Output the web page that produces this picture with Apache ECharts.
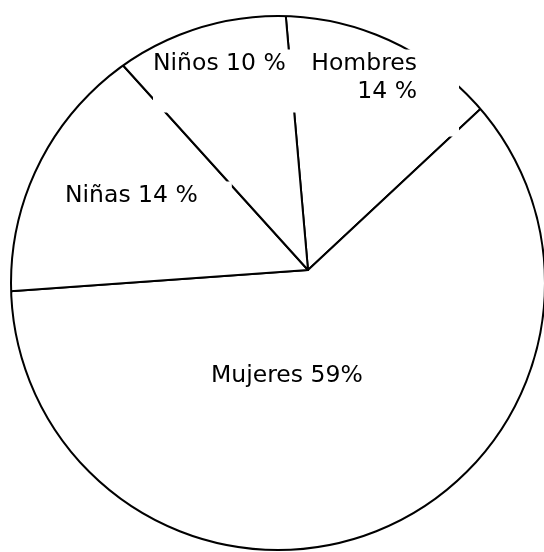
<!DOCTYPE html>
<html>
<head>
<meta charset="utf-8">
<script src="https://cdn.jsdelivr.net/npm/echarts@6/dist/echarts.min.js"></script>
<style>
  html, body { margin: 0; padding: 0; background: #fff; }
  #chart { width: 544px; height: 552px; }
</style>
</head>
<body>
<div id="chart"></div>
<script>
// Data (clockwise from the top)
const categories = ['Hombres', 'Mujeres', 'Niñas', 'Niños'];
const values = [14, 59, 14, 10];
const labelTexts = ['Hombres\n14 %', 'Mujeres 59%', 'Niñas 14 %', 'Niños 10 %'];

const chart = echarts.init(document.getElementById('chart'), null, { renderer: 'canvas' });

const apexCenter = [308, 270];
const circleCenter = [278, 283];
const circleR = 267;
const startAngle = 95;

const sliceData = categories.map((c, i) => ({ name: c, value: values[i] }));

// label layout (box anchor, alignment, padding)
const labelLayoutInfo = [
  { x: 459, y: 49.5, align: 'right', padding: [0, 42, 31, 0] },
  { x: 211, y: 362, align: 'left', padding: [0, 42, 32, 0] },
  { x: 65, y: 181.5, align: 'left', padding: [0, 34, 32, 0] },
  { x: 153, y: 49.5, align: 'left', padding: [0, 20, 35, 0] }
];

const option = {
  backgroundColor: '#fff',
  animation: false,
  series: [
    {
      // slice boundaries
      type: 'pie',
      z: 1,
      silent: true,
      center: apexCenter,
      radius: [0, 340],
      startAngle: startAngle,
      clockwise: true,
      avoidLabelOverlap: false,
      label: { show: false },
      labelLine: { show: false },
      itemStyle: { color: '#fff', borderColor: '#000', borderWidth: 2 },
      data: sliceData
    },
    {
      // outer circle (white mask outside the circle)
      type: 'pie',
      z: 2,
      silent: true,
      center: circleCenter,
      radius: [circleR, 900],
      label: { show: false },
      labelLine: { show: false },
      itemStyle: { color: '#fff', borderColor: '#000', borderWidth: 2 },
      data: [{ name: 'circle', value: 1 }]
    },
    {
      // labels
      type: 'pie',
      z: 3,
      silent: true,
      center: apexCenter,
      radius: [0, 340],
      startAngle: startAngle,
      clockwise: true,
      avoidLabelOverlap: false,
      itemStyle: { color: 'rgba(0,0,0,0)', borderWidth: 0 },
      labelLine: { show: false },
      label: {
        show: true,
        position: 'inside',
        fontFamily: 'DejaVu Sans',
        fontSize: 23.5,
        lineHeight: 28,
        color: '#000',
        backgroundColor: '#fff',
        formatter: (p) => labelTexts[p.dataIndex]
      },
      labelLayout: (params) => {
        const l = labelLayoutInfo[params.dataIndex];
        return { x: l.x, y: l.y, align: l.align, verticalAlign: 'top' };
      },
      data: sliceData.map((d, i) => ({
        name: d.name,
        value: d.value,
        label: { padding: labelLayoutInfo[i].padding, align: labelLayoutInfo[i].align }
      }))
    }
  ]
};

chart.setOption(option);
</script>
</body>
</html>
